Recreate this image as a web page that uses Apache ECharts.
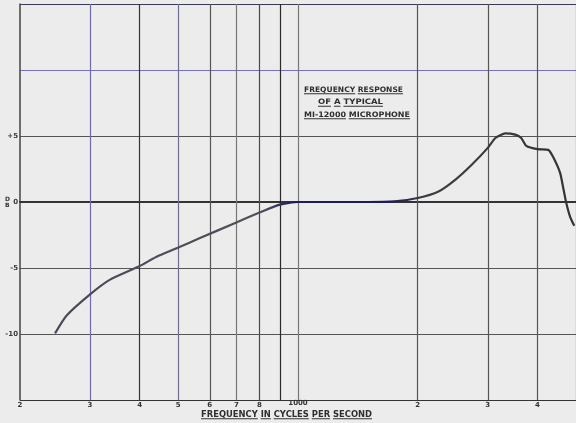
<!DOCTYPE html>
<html>
<head>
<meta charset="utf-8">
<script src="https://cdn.jsdelivr.net/npm/echarts@6/dist/echarts.min.js"></script>
<style>
html,body{margin:0;padding:0;background:#ececec;}
#c{width:576px;height:423px;}
</style>
</head>
<body>
<div id="c"></div>
<script>
// ---- data ----
var freqHz = [245, 262, 300, 336, 400, 441, 500, 565, 700, 800, 900, 1000, 1200, 1500, 1750, 2000, 2256, 2489, 2730, 3000, 3135, 3321, 3518, 3641, 3750, 4000, 4258, 4381, 4560, 4642, 4720, 4830, 4950];
var responseDb = [-9.95, -8.6, -7.0, -5.9, -4.85, -4.15, -3.45, -2.75, -1.55, -0.8, -0.2, 0, 0, 0, 0.05, 0.3, 0.8, 1.7, 2.8, 4.1, 4.85, 5.2, 5.1, 4.85, 4.25, 4.0, 3.95, 3.4, 2.2, 1.1, 0, -1.1, -1.8];
var freqTicks = [200, 300, 400, 500, 600, 700, 800, 900, 1000, 2000, 3000, 4000, 5000];
var freqTickLabels = ['2', '3', '4', '5', '6', '7', '8', '', '1000', '2', '3', '4', ''];
var dbTicks = [-15, -10, -5, 0, 5, 10, 15];
var dbTickLabels = {'-10': '-10', '-5': '-5', '0': '0', '5': '+5'};
var titleLines = ['FREQUENCY RESPONSE', 'OF A TYPICAL', 'MI-12000 MICROPHONE'];
var xAxisTitle = 'FREQUENCY IN CYCLES PER SECOND';

// ---- styling helpers ----
var vColors = ['#444', '#6e69b0', '#333', '#6d6d90', '#555', '#777', '#4a4a4a', '#2a2a2a', '#777', '#555', '#555', '#555', '#555'];
var measureCtx = document.createElement('canvas').getContext('2d');

function textLine(text, x0, x1, yc, fontPx) {
  var font = 'bold ' + fontPx + 'px "DejaVu Sans"';
  measureCtx.font = font;
  var W = measureCtx.measureText(text).width;
  var s = (x1 - x0) / W;
  var els = [{
    type: 'text', x: x0, y: yc, scaleX: s, scaleY: 1,
    style: {text: text, font: font, fill: '#2e2e2e', align: 'left', verticalAlign: 'middle'}
  }];
  var words = text.split(' ');
  var prefix = '';
  words.forEach(function (w) {
    var off = measureCtx.measureText(prefix).width;
    var ww = measureCtx.measureText(w).width;
    els.push({
      type: 'line',
      shape: {x1: x0 + off * s, y1: yc + fontPx * 0.5, x2: x0 + (off + ww) * s, y2: yc + fontPx * 0.5},
      style: {stroke: '#333', lineWidth: 1}
    });
    prefix += w + ' ';
  });
  return els;
}

var graphics = [];
graphics = graphics.concat(textLine(titleLines[0], 304, 403, 90, 7.5));
graphics = graphics.concat(textLine(titleLines[1], 318, 383, 102.5, 7.5));
graphics = graphics.concat(textLine(titleLines[2], 304, 410, 115, 7.5));
graphics = graphics.concat(textLine(xAxisTitle, 201, 372, 414.5, 8.5));
graphics.push({type: 'text', x: 5, y: 199, style: {text: 'D', font: 'bold 6px "DejaVu Sans"', fill: '#333', align: 'left', verticalAlign: 'middle'}});
graphics.push({type: 'text', x: 5, y: 205, style: {text: 'B', font: 'bold 6px "DejaVu Sans"', fill: '#333', align: 'left', verticalAlign: 'middle'}});

var markData = freqTicks.map(function (f, i) {
  return {
    xAxis: f,
    lineStyle: {color: vColors[i], width: (i === 0 ? 0 : 1.2), type: 'solid'},
    label: {
      show: freqTickLabels[i] !== '',
      formatter: freqTickLabels[i],
      position: 'start',
      distance: (freqTickLabels[i] === '1000' ? 0 : 2),
      color: '#333', fontSize: 7, fontWeight: 'bold', fontFamily: 'DejaVu Sans'
    }
  };
});

var chart = echarts.init(document.getElementById('c'), null, {renderer: 'canvas'});
chart.setOption({
  backgroundColor: '#ececec',
  animation: false,
  grid: {left: 20, right: 0, top: 4, bottom: 23, containLabel: false},
  xAxis: {
    type: 'log', logBase: 10, min: 200, max: 5000,
    axisLine: {show: true, lineStyle: {color: '#333', width: 2}},
    axisTick: {show: false}, axisLabel: {show: false}, splitLine: {show: false}
  },
  yAxis: {
    type: 'value', min: -15, max: 15, interval: 5,
    axisLine: {show: true, lineStyle: {color: '#444', width: 1.5}},
    axisTick: {show: false},
    axisLabel: {
      margin: 2, fontSize: 7, fontWeight: 'bold', color: '#3a3a3a', fontFamily: 'DejaVu Sans',
      formatter: function (v) { return dbTickLabels[String(v)] || ''; }
    },
    splitLine: {show: true, lineStyle: {color: ['#333', '#555', '#555', '#444', '#555', '#7670b8', '#3a3a55'], width: 1.2}}
  },
  series: [
    {
      type: 'line', data: [], silent: true, z: 1,
      markLine: {silent: true, symbol: ['none', 'none'], data: markData, animation: false}
    },
    {
      type: 'line', z: 5, smooth: 0.2, showSymbol: false,
      data: freqHz.map(function (f, i) { return [f, responseDb[i]]; }),
      lineStyle: {
        width: 2.2,
        color: new echarts.graphic.LinearGradient(0, 0, 1, 0, [
          {offset: 0, color: '#4a4a58'},
          {offset: 0.4, color: '#505058'},
          {offset: 0.46, color: '#1c1c5c'},
          {offset: 0.64, color: '#1c1c5c'},
          {offset: 0.72, color: '#3e3e3e'},
          {offset: 1, color: '#333'}
        ])
      }
    }
  ],
  graphic: graphics
});
</script>
</body>
</html>
